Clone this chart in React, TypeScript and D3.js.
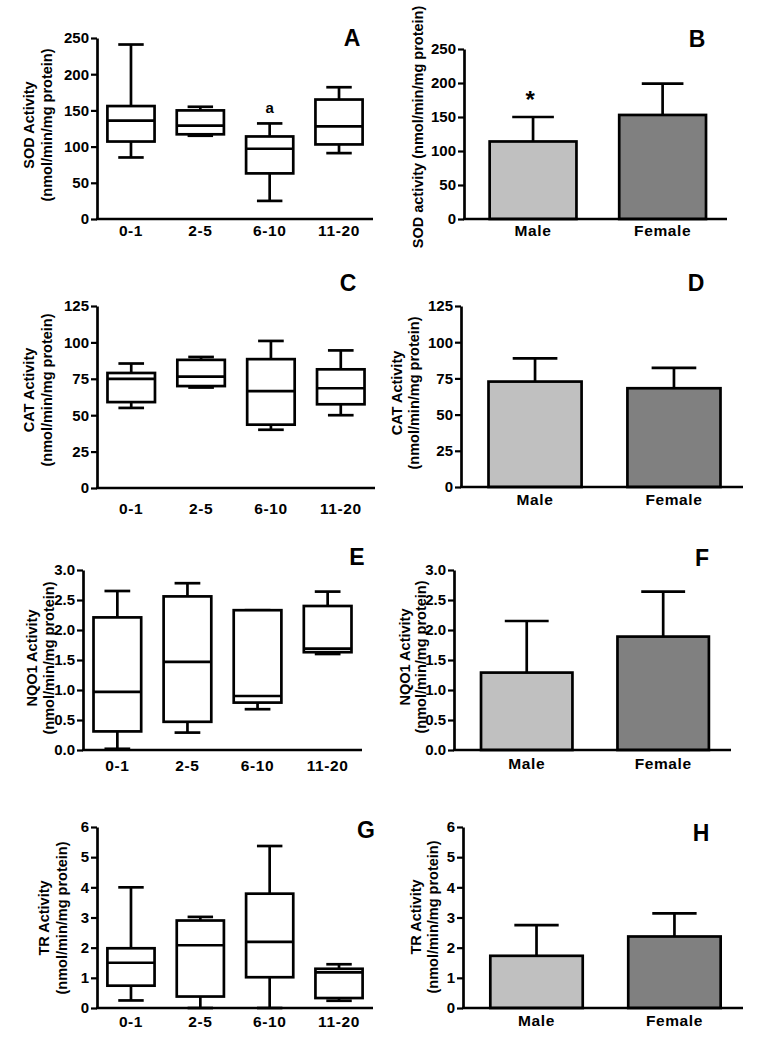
import { useEffect, useRef } from 'react';
import * as d3 from 'd3';

// categories
const ageGroups = ["0-1", "2-5", "6-10", "11-20"];
const sexGroups = ["Male", "Female"];

// box plots by age: [min, q1, median, q3, max]
const sodByAge = [[85, 107, 136, 156, 241], [115, 117, 129, 150, 155], [25, 63, 97, 114, 132], [91, 103, 128, 165, 182]];
const catByAge = [[55, 59, 75, 79, 85.5], [69, 70, 76.5, 88, 90], [40, 43.5, 66.5, 88.5, 101], [50, 57.5, 68.5, 81.5, 94.5]];
const nqoByAge = [[0.02, 0.31, 0.97, 2.21, 2.65], [0.29, 0.47, 1.47, 2.56, 2.78], [0.68, 0.79, 0.9, 2.33, 2.33], [1.6, 1.63, 1.69, 2.4, 2.64]];
const trByAge = [[0.25, 0.74, 1.5, 1.98, 4.0], [0, 0.38, 2.08, 2.9, 3.02], [0, 1.02, 2.19, 3.79, 5.37], [0.24, 0.33, 1.18, 1.3, 1.45]];

// bars by sex: mean and SD
const sodSexMean = [114, 153];
const sodSexSd = [36, 46];
const catSexMean = [72.8, 68.2];
const catSexSd = [16, 14];
const nqoSexMean = [1.29, 1.89];
const nqoSexSd = [0.86, 0.75];
const trSexMean = [1.73, 2.37];
const trSexSd = [1.02, 0.77];

// y axis ticks
const sodTicks = [0, 50, 100, 150, 200, 250];
const catTicks = [0, 25, 50, 75, 100, 125];
const nqoTicks = [0, 0.5, 1, 1.5, 2, 2.5, 3];
const trTicks = [0, 1, 2, 3, 4, 5, 6];

const FONT = "'Liberation Sans', Arial, sans-serif";
const barFill = ["#c0c0c0", "#808080"];
const LW = 2.7;

const boxPanels = [
  { letter: "A", data: sodByAge, ticks: sodTicks, fmt: d3.format("d"), x: [97, 373], y: [219, 38], lab: ["SOD Activity", "(nmol/min/mg protein)"], labX: [29, 47], labY: 125, catY: 236, let: [352, 46], note: { i: 2, text: "a" } },
  { letter: "C", data: catByAge, ticks: catTicks, fmt: d3.format("d"), x: [97, 375], y: [488, 306], lab: ["CAT Activity", "(nmol/min/mg protein)"], labX: [29, 47], labY: 390, catY: 514, let: [348, 291] },
  { letter: "E", data: nqoByAge, ticks: nqoTicks, fmt: d3.format(".1f"), x: [83, 362], y: [750, 570], lab: ["NQO1 Activity", "(nmol/min/mg protein)"], labX: [32, 49], labY: 658, catY: 771, let: [357, 565] },
  { letter: "G", data: trByAge, ticks: trTicks, fmt: d3.format("d"), x: [97, 373], y: [1008, 827], lab: ["TR Activity", "(nmol/min/mg protein)"], labX: [44, 62], labY: 918, catY: 1027, let: [366, 838] },
];

const barPanels = [
  { letter: "B", mean: sodSexMean, sd: sodSexSd, ticks: sodTicks, fmt: d3.format("d"), x: [464, 727], y: [219, 49], lab: ["SOD activity (nmol/min/mg protein)"], labX: [418], labY: 127, catY: 236, let: [697, 47], star: true },
  { letter: "D", mean: catSexMean, sd: catSexSd, ticks: catTicks, fmt: d3.format("d"), x: [461, 743], y: [487, 306], lab: ["CAT Activity", "(nmol/min/mg protein)"], labX: [397, 414], labY: 393, catY: 505, let: [696, 291] },
  { letter: "F", mean: nqoSexMean, sd: nqoSexSd, ticks: nqoTicks, fmt: d3.format(".1f"), x: [454, 731], y: [750, 570], lab: ["NQO1 Activity", "(nmol/min/mg protein)"], labX: [405, 421], labY: 657, catY: 769, let: [702, 566] },
  { letter: "H", mean: trSexMean, sd: trSexSd, ticks: trTicks, fmt: d3.format("d"), x: [463, 743], y: [1008, 827], lab: ["TR Activity", "(nmol/min/mg protein)"], labX: [416, 433], labY: 917, catY: 1026, let: [701, 841] },
];

// shared axis + labels for one panel
function drawFrame(g, p, y) {
  const ax = g.append("g")
    .attr("transform", `translate(${p.x[0]},0)`)
    .call(d3.axisLeft(y).tickValues(p.ticks).tickFormat(p.fmt).tickSize(6).tickPadding(2).tickSizeOuter(0));
  ax.select(".domain").attr("stroke-width", LW);
  ax.selectAll(".tick line").attr("stroke-width", 2.2);
  ax.selectAll("text")
    .attr("font-family", FONT).attr("font-weight", "bold").attr("font-size", 15).attr("fill", "#000");

  g.append("line")
    .attr("x1", p.x[0] - 1).attr("x2", p.x[1]).attr("y1", p.y[0]).attr("y2", p.y[0])
    .attr("stroke", "#000").attr("stroke-width", LW);

  p.lab.forEach((t, i) => {
    g.append("text")
      .attr("transform", `translate(${p.labX[i]},${p.labY}) rotate(-90)`)
      .attr("text-anchor", "middle").attr("dominant-baseline", "central")
      .attr("font-family", FONT).attr("font-weight", "bold").attr("font-size", 14.5)
      .text(t);
  });

  g.append("text")
    .attr("x", p.let[0]).attr("y", p.let[1])
    .attr("text-anchor", "middle")
    .attr("font-family", FONT).attr("font-weight", "bold").attr("font-size", 23)
    .text(p.letter);
}

function drawCats(g, cats, x, bw, catY) {
  g.selectAll(".cat").data(cats).enter().append("text")
    .attr("x", d => x(d) + bw / 2).attr("y", catY)
    .attr("text-anchor", "middle")
    .attr("font-family", FONT).attr("font-weight", "bold").attr("font-size", 15.5)
    .attr("letter-spacing", 0.6)
    .text(d => d);
}

const App = () => {
  const svgRef = useRef(null);

  useEffect(() => {
    const svg = d3.select(svgRef.current);
    svg.selectAll("*").remove();

    boxPanels.forEach(p => {
      const g = svg.append("g");
      const y = d3.scaleLinear().domain([p.ticks[0], p.ticks[p.ticks.length - 1]]).range(p.y);
      const x = d3.scaleBand().domain(ageGroups).range(p.x).paddingInner(0.32).paddingOuter(0.15);
      const bw = x.bandwidth();

      const box = g.selectAll(".box").data(p.data).enter().append("g")
        .attr("transform", (d, i) => `translate(${x(ageGroups[i])},0)`)
        .attr("stroke", "#000").attr("stroke-width", LW).attr("fill", "none");

      // whiskers
      box.append("line").attr("x1", bw / 2).attr("x2", bw / 2).attr("y1", d => y(d[4])).attr("y2", d => y(d[3]));
      box.append("line").attr("x1", bw / 2).attr("x2", bw / 2).attr("y1", d => y(d[1])).attr("y2", d => y(d[0]));
      box.append("line").attr("x1", bw * 0.23).attr("x2", bw * 0.77).attr("y1", d => y(d[4])).attr("y2", d => y(d[4]));
      box.append("line").attr("x1", bw * 0.23).attr("x2", bw * 0.77).attr("y1", d => y(d[0])).attr("y2", d => y(d[0]));
      // box + median
      box.append("rect").attr("x", 0).attr("width", bw)
        .attr("y", d => y(d[3])).attr("height", d => y(d[1]) - y(d[3])).attr("fill", "#fff");
      box.append("line").attr("x1", 0).attr("x2", bw).attr("y1", d => y(d[2])).attr("y2", d => y(d[2]));

      drawFrame(g, p, y);
      drawCats(g, ageGroups, x, bw, p.catY);

      if (p.note) {
        const d = p.data[p.note.i];
        g.append("text")
          .attr("x", x(ageGroups[p.note.i]) + bw / 2).attr("y", y(d[4]) - 10)
          .attr("text-anchor", "middle")
          .attr("font-family", FONT).attr("font-weight", "bold").attr("font-size", 15)
          .text(p.note.text);
      }
    });

    barPanels.forEach(p => {
      const g = svg.append("g");
      const y = d3.scaleLinear().domain([p.ticks[0], p.ticks[p.ticks.length - 1]]).range(p.y);
      const x = d3.scaleBand().domain(sexGroups).range(p.x).paddingInner(0.33).paddingOuter(0.18).align(0.55);
      const bw = x.bandwidth();

      const bar = g.selectAll(".bar").data(p.mean).enter().append("g")
        .attr("transform", (d, i) => `translate(${x(sexGroups[i])},0)`)
        .attr("stroke", "#000").attr("stroke-width", LW);

      // error bars (upper only)
      bar.append("line").attr("x1", bw / 2).attr("x2", bw / 2)
        .attr("y1", d => y(d)).attr("y2", (d, i) => y(d + p.sd[i]));
      bar.append("line").attr("x1", bw * 0.26).attr("x2", bw * 0.74)
        .attr("y1", (d, i) => y(d + p.sd[i])).attr("y2", (d, i) => y(d + p.sd[i]));
      bar.append("rect").attr("x", 0).attr("width", bw)
        .attr("y", d => y(d)).attr("height", d => y(0) - y(d))
        .attr("fill", (d, i) => barFill[i]);

      drawFrame(g, p, y);
      drawCats(g, sexGroups, x, bw, p.catY);

      if (p.star) {
        g.append("text")
          .attr("x", x(sexGroups[0]) + bw / 2 - 3).attr("y", y(p.mean[0] + p.sd[0]) - 18)
          .attr("text-anchor", "middle").attr("dominant-baseline", "central")
          .attr("font-family", FONT).attr("font-weight", "bold").attr("font-size", 24)
          .text("*");
      }
    });
  }, []);

  return (
    <svg ref={svgRef} width={767} height={1050}
      style={{ position: "absolute", left: 0, top: 0, background: "#fff" }} />
  );
};

export default App;
